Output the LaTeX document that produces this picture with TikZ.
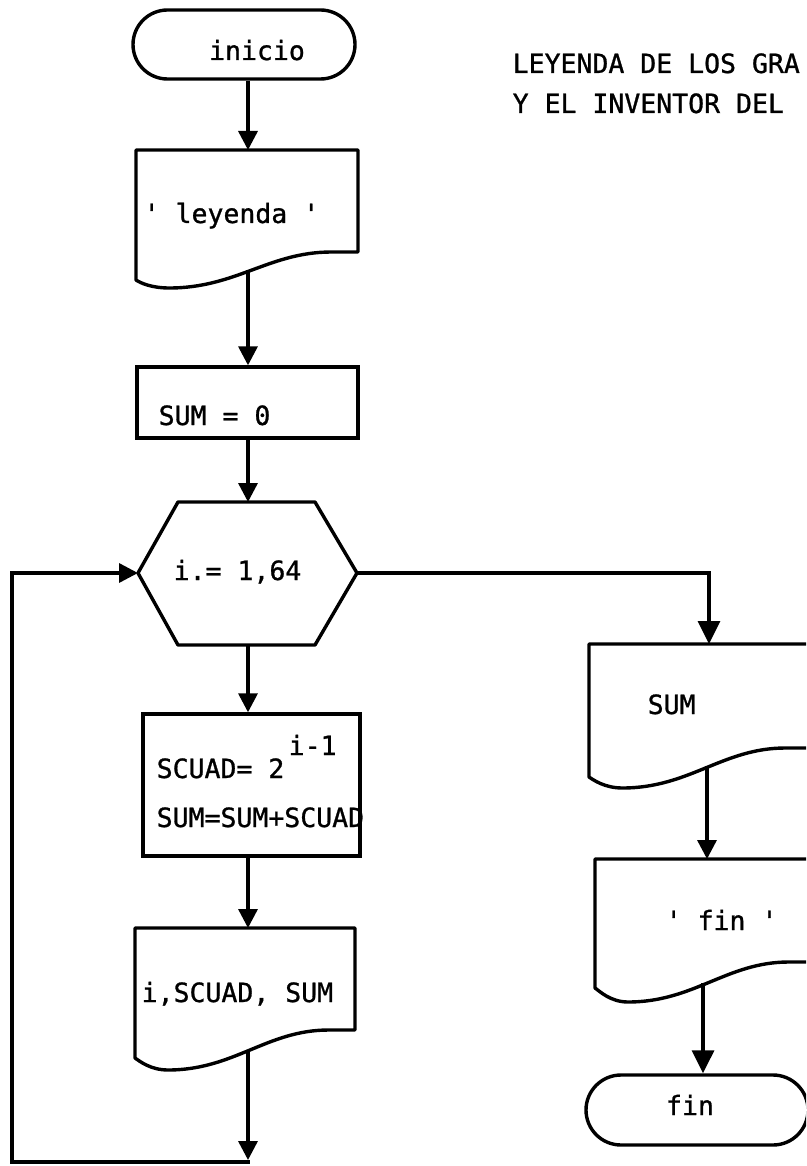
\documentclass[tikz,border=0pt]{standalone}
\usepackage{fontspec}
\newfontfamily\twfont[FakeBold=1]{DejaVu Sans Mono}
\usetikzlibrary{arrows.meta,shapes.misc}
\newcommand\flowdoc[6]{% L R T yr yl ym
  \draw[shapeline] (#1,#3) -- (#2,#3) -- (#2,#4) -- ({#2-0.12*(#2-#1)},#4)
    .. controls ({#2-0.4*(#2-#1)},#4) and ({#1+0.45*(#2-#1)},#6) .. ({#1+0.15*(#2-#1)},#6)
    .. controls ({#1+0.07*(#2-#1)},#6) and ({#1+0.02*(#2-#1)},{#5+3}) .. (#1,#5) -- cycle;}
\begin{document}
\begin{tikzpicture}[x=1pt,y=-1pt,line width=3.4pt,
  shapeline/.style={line width=3.4pt,line join=round},
  lbl/.style={font=\twfont\fontsize{26.5}{30}\selectfont,inner sep=0pt,anchor=base west},
  oarr/.style={-{Triangle[length=19pt,width=19pt]}},
  farr/.style={-{Triangle[length=23pt,width=22pt]}},
  termbox/.style={draw,rounded rectangle,inner sep=0pt,line width=3.4pt},
  procbox/.style={draw,rectangle,inner sep=0pt,line width=3.4pt}]
\useasboundingbox (0,0) rectangle (806,1166);
\fill[white] (0,0) rectangle (806,1166);
\clip (0,0) rectangle (806,1166);

% main column x
\coordinate (colx) at (248,0);

% terminals and boxes
\node[termbox,minimum width=222pt,minimum height=69pt] (inicio) at (244,44.5) {};
\node[procbox,minimum width=221pt,minimum height=71pt] (sumbox) at (247.5,402.5) {};
\node[procbox,minimum width=217pt,minimum height=142pt] (scuad) at (251.5,785) {};
\node[termbox,minimum width=222pt,minimum height=70pt] (fint) at (697,1110) {};

% documents
\flowdoc{136}{358}{150}{252}{280}{288}
\flowdoc{135}{355}{928}{1030}{1058}{1070}
\flowdoc{589}{812}{644}{748}{777}{788}
\flowdoc{595}{815}{859}{962}{988}{1002}

% hexagon
\coordinate (hexL) at (138,573);
\coordinate (hexR) at (357,573);
\coordinate (hexT) at (248,502);
\coordinate (hexB) at (248,645);
\draw[shapeline] (178,502) -- (315,502) -- (hexR) -- (315,645) -- (178,645) -- (hexL) -- cycle;

% named connector end points
\coordinate (leyT) at (248,150);
\coordinate (leyB) at (248,270);
\coordinate (outT) at (248,928);
\coordinate (outB) at (248,1050);
\coordinate (loopC) at (248,1160);
\coordinate (loopBL) at (12,1162);
\coordinate (loopBR) at (249.5,1162);
\coordinate (loopTL) at (12,573);
\coordinate (sumT) at (709,644);
\coordinate (sumB) at (707,766);
\coordinate (finT) at (707,859);
\coordinate (finB) at (703,983);

% connectors
\draw[oarr] (inicio.south -| colx) -- (leyT);
\draw[oarr] (leyB) -- (sumbox.north -| colx);
\draw[oarr] (sumbox.south -| colx) -- (hexT);
\draw[oarr] (hexB) -- (scuad.north -| colx);
\draw[oarr] (scuad.south -| colx) -- (outT);
\draw[oarr] (outB) -- (loopC);
\draw[oarr] (loopBR) -- (loopBL) -- (loopTL) -- (hexL);
\draw[farr] (hexR) -- (hexR -| sumT) -- (sumT);
\draw[oarr] (sumB) -- (finT);
\draw[farr] (finB) -- (fint.north -| finB);

% texts
\node[lbl,anchor=base] (tInicio) at (257,60) {inicio};
\node[lbl] (tLey) at (142,223) {\textquotesingle{} leyenda \textquotesingle};
\node[lbl] (tSum0) at (157,425) {SUM = 0};
\node[lbl] (tHex) at (172,580) {i.= 1,64};
\node[lbl] (tScuad) at (155,778) {SCUAD= 2};
\node[lbl] (tExp) at (287,755) {i-1};
\node[lbl] (tSumS) at (155,827) {SUM=SUM+SCUAD};
\node[lbl] (tOut) at (140,1002) {i,SCUAD, SUM};
\node[lbl] (tSumR) at (646,714) {SUM};
\node[lbl] (tFinQ) at (664,930) {\textquotesingle{} fin \textquotesingle};
\node[lbl,anchor=base] (tFin) at (690,1115) {fin};
\node[lbl] (tLeg1) at (511,73) {LEYENDA DE LOS GRA};
\node[lbl] (tLeg2) at (511,113) {Y EL INVENTOR DEL};
\end{tikzpicture}
\end{document}
